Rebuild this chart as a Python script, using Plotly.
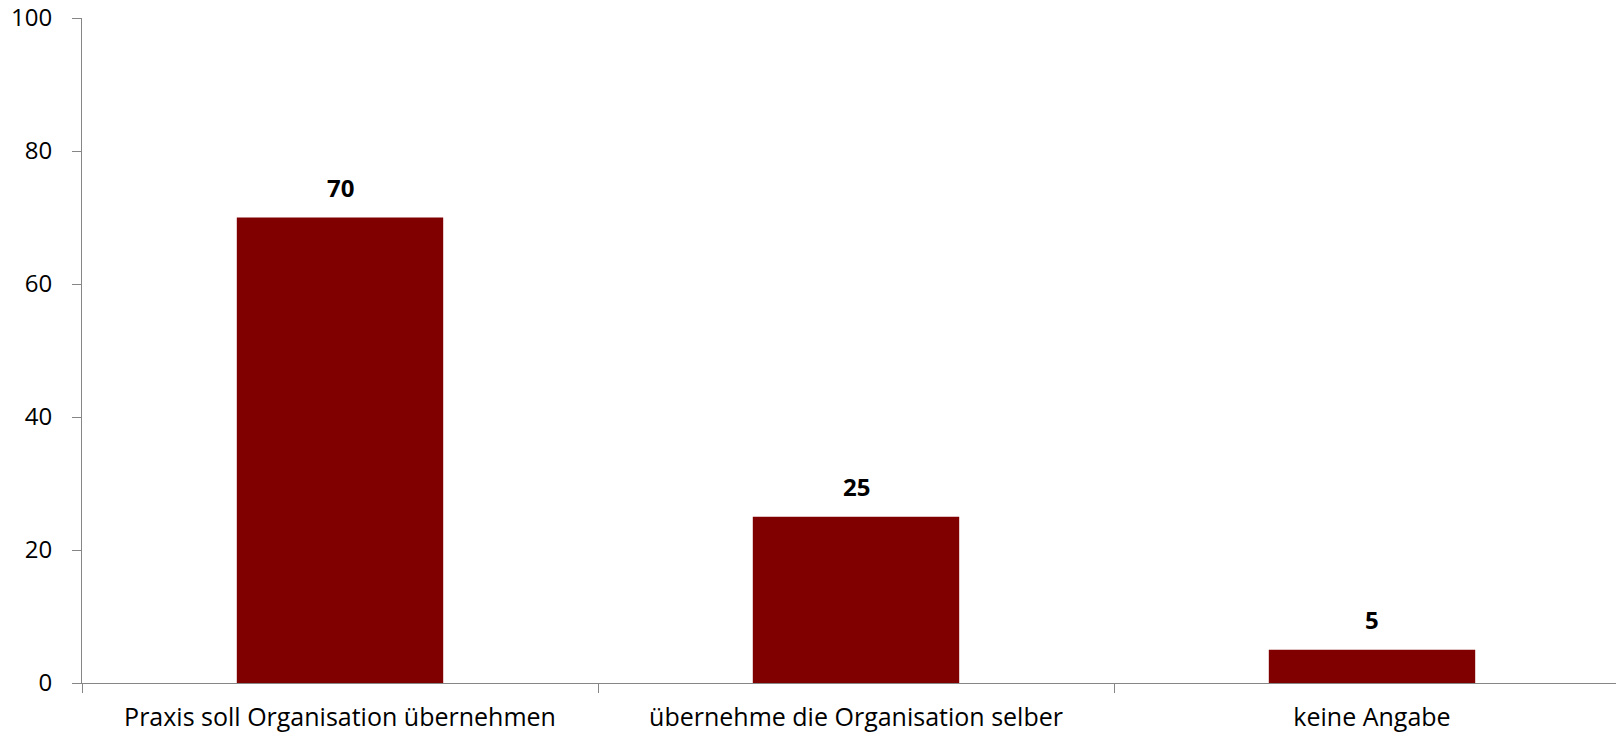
import plotly.graph_objects as go

categories = ["Praxis soll Organisation übernehmen", "übernehme die Organisation selber", "keine Angabe"]
values = [70, 25, 5]
y_ticks = [0, 20, 40, 60, 80, 100]

FONT = "Open Sans"
AXIS_GREY = "#868686"

fig = go.Figure(go.Bar(
    x=categories,
    y=values,
    marker=dict(color="#800000", line=dict(width=0)),
    hoverinfo="x+y",
))

# value labels above the bars, a bit higher than plotly's default "outside" text
for cat, val in zip(categories, values):
    fig.add_annotation(
        x=cat, y=val, text=f"<b>{val}</b>",
        showarrow=False, yanchor="bottom", yshift=12,
        font=dict(family=FONT, size=24, color="black"),
    )

# the page has an 8px body margin, so margins are trimmed to match the reference
fig.update_layout(
    width=1624,
    height=734,
    paper_bgcolor="white",
    plot_bgcolor="white",
    margin=dict(l=74, r=2, t=10, b=59),
    bargap=0.6,
    showlegend=False,
    font=dict(family=FONT, size=24, color="black"),
)
fig.update_xaxes(
    showline=True, linecolor=AXIS_GREY, linewidth=1,
    ticks="outside", tickson="boundaries", ticklen=9, tickcolor=AXIS_GREY,
    tickfont=dict(family=FONT, size=25),
    ticklabelstandoff=12,
    showgrid=False, automargin=False,
)
fig.update_yaxes(
    range=[0, 100], tickvals=y_ticks,
    showline=True, linecolor=AXIS_GREY, linewidth=1,
    ticks="outside", ticklen=9, tickcolor=AXIS_GREY,
    tickfont=dict(family=FONT, size=24),
    ticklabelstandoff=15, ticklabeloverflow="allow",
    showgrid=False, zeroline=False, automargin=False,
)

fig.write_html("out.html")
